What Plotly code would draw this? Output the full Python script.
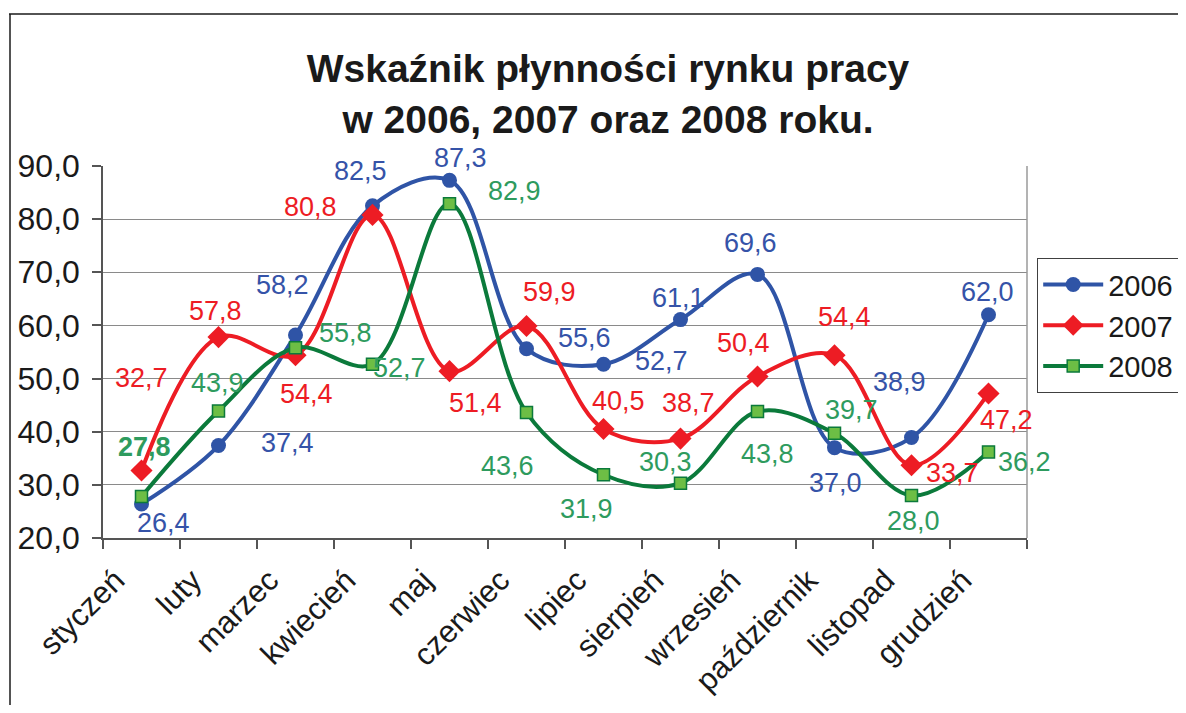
import plotly.graph_objects as go

months = ["styczeń", "luty", "marzec", "kwiecień", "maj", "czerwiec", "lipiec",
          "sierpień", "wrzesień", "październik", "listopad", "grudzień"]
years = ["2006", "2007", "2008"]
v2006 = [26.4, 37.4, 58.2, 82.5, 87.3, 55.6, 52.7, 61.1, 69.6, 37.0, 38.9, 62.0]
v2007 = [32.7, 57.8, 54.4, 80.8, 51.4, 59.9, 40.5, 38.7, 50.4, 54.4, 33.7, 47.2]
v2008 = [27.8, 43.9, 55.8, 52.7, 82.9, 43.6, 31.9, 30.3, 43.8, 39.7, 28.0, 36.2]
y_ticks = [20, 30, 40, 50, 60, 70, 80, 90]

# label offsets in pixels (style only): (dx, dy up)
off2006 = [(22, -19), (69, 3), (-13, 50), (-12, 35), (11, 22), (58, 11), (58, 3),
           (-2, 22), (-7, 31), (1, -35), (-12, 56), (-1, 23)]
off2007 = [(0, 93), (-3, 26), (11, -39), (-62, 8), (26, -32), (23, 34), (15, 28),
           (8, 36), (-14, 33), (10, 38), (41, -8), (18, -27)]
off2008 = [(3, 50), (-1, 28), (50, 15), (27, -4), (65, 13), (-19, -53), (-17, -34),
           (-15, 21), (10, -42), (17, 23), (2, -26), (36, -10)]

line_colors = ["#2F54A6", "#ED1C24", "#0B7A3B"]
label_colors = ["#3553A8", "#ED1C24", "#2E9B5E"]
font = "Liberation Sans, Arial, sans-serif"

fig = go.Figure()
series = [v2006, v2007, v2008]
markers = [
    dict(symbol="circle", size=15, color=line_colors[0]),
    dict(symbol="diamond", size=17, color=line_colors[1]),
    dict(symbol="square", size=12, color="#6DBE45", line=dict(color="#0B7A3B", width=1.5)),
]
for name, vals, col, mk in zip(years, series, line_colors, markers):
    fig.add_trace(go.Scatter(
        x=months, y=vals, name=name, mode="lines+markers",
        line=dict(color=col, width=4, shape="spline", smoothing=1.0),
        marker=mk,
    ))

annotations = []
for vals, offs, lc, idx in zip(series, [off2006, off2007, off2008], label_colors, range(3)):
    for i, (m, v) in enumerate(zip(months, vals)):
        txt = f"{v:.1f}".replace(".", ",")
        if idx == 2 and i == 0:
            txt = f"<b>{txt}</b>"
        annotations.append(dict(
            x=m, y=v, text=txt, showarrow=False,
            xshift=offs[i][0], yshift=offs[i][1],
            font=dict(family=font, size=27, color=lc),
        ))

# page body adds an 8px margin; size the figure so the page does not overflow
S = 8
W, H = 1186 - 2 * S, 713 - 2 * S
L, T = 103 - S, 166 - S
R = W - (1027 - S)
B = H - (538 - S)
pw = W - L - R
ph = H - T - B

def px_x(px):
    return (px - S - L) / pw

def px_y(py):
    return (H - B - (py - S)) / ph

frame = dict(color="#1a1a1a", width=1.5)
shapes = [
    dict(type="line", xref="paper", yref="paper",
         x0=px_x(9), x1=px_x(1250), y0=px_y(14), y1=px_y(14), line=frame, layer="above"),
    dict(type="line", xref="paper", yref="paper",
         x0=px_x(10), x1=px_x(10), y0=px_y(14), y1=px_y(760), line=frame, layer="above"),
    dict(type="line", xref="paper", yref="paper", x0=1, x1=1, y0=0, y1=1,
         line=dict(color="#9a9a9a", width=1.5)),
]

fig.update_layout(
    width=W, height=H,
    margin=dict(l=L, r=R, t=T, b=B, autoexpand=False),
    paper_bgcolor="white", plot_bgcolor="white",
    separators=", ",
    title=dict(
        text="Wskaźnik płynności rynku pracy<br>w 2006, 2007 oraz 2008 roku.",
        x=(608 - S) / W, xref="container", xanchor="center",
        y=1 - 74 / H, yref="container", yanchor="middle",
        font=dict(family=font, size=39, color="#1a1a1a", weight="bold"),
    ),
    xaxis=dict(
        type="category", range=[-0.5, 11.5], tickson="boundaries",
        ticks="outside", ticklen=9, tickcolor="#555", tickwidth=1.5,
        showline=True, linecolor="#555", linewidth=1.5,
        showgrid=False, tickangle=-45,
        ticklabelshift=-26, ticklabelstandoff=10,
        tickfont=dict(family=font, size=31, color="#1a1a1a"),
        automargin=False,
    ),
    yaxis=dict(
        range=[20, 90], tickvals=y_ticks, tickformat=".1f",
        ticks="outside", ticklen=9, tickcolor="#555", tickwidth=1.5,
        showline=True, linecolor="#555", linewidth=1.5,
        showgrid=True, gridcolor="#8a8a8a", gridwidth=1.2,
        zeroline=False, ticklabelstandoff=6,
        tickfont=dict(family=font, size=32, color="#1a1a1a"),
        automargin=False,
    ),
    legend=dict(
        x=px_x(1037), y=px_y(258), xanchor="left", yanchor="top",
        bordercolor="#404040", borderwidth=1.2, bgcolor="white",
        font=dict(family=font, size=29, color="#1a1a1a"),
        tracegroupgap=0, itemwidth=60,
    ),
    annotations=annotations,
    shapes=shapes,
    showlegend=True,
)

fig.write_html("out.html")
